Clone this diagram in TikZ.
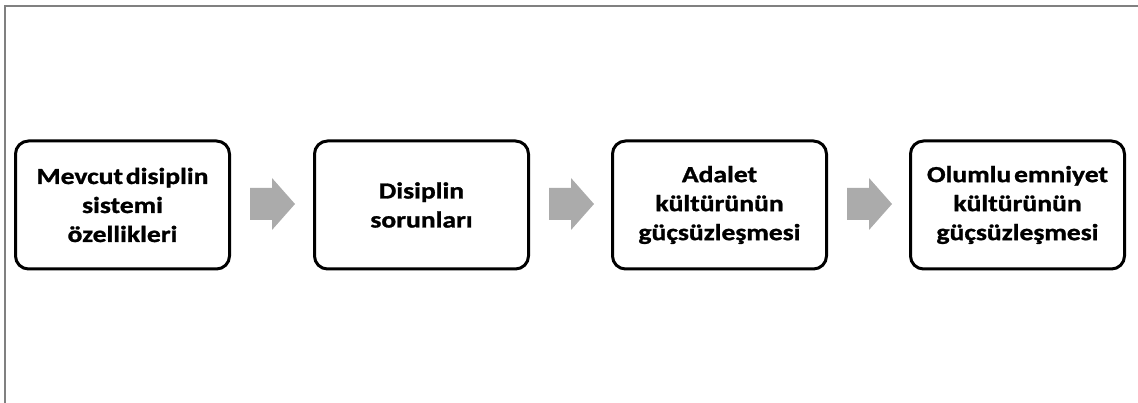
\documentclass[tikz,border=0pt]{standalone}
\usepackage{fontspec}
\setmainfont{Carlito}
\newfontfamily\stepfont{Carlito}[FakeStretch=1.2, FakeBold=1.2, WordSpace=0.45]
\usetikzlibrary{calc}
\begin{document}
\begin{tikzpicture}[x=1pt,y=-1pt,
  stepbox/.style={draw=black, line width=3pt, rounded corners=13pt,
    minimum width=214pt, minimum height=128pt, inner sep=0pt,
    align=center, font=\stepfont\bfseries\fontsize{23}{29}\selectfont},
  blockarrow/.style={fill=black!33, draw=none}]
\useasboundingbox (0,0) rectangle (1138,403);
% partial frame
\draw[line width=2pt, draw=black!50] (5,403) -- (5,6.5) -- (1138,6.5);

\node[stepbox] (b1) at (122.5,205) {Mevcut disiplin\\sistemi\\özellikleri};
\node[stepbox] (b2) at (421.5,205) {Disiplin\\sorunları};
\node[stepbox] (b3) at (719.5,205) {Adalet\\kültürünün\\güçsüzleşmesi};
\node[stepbox] (b4) at (1017.5,205) {Olumlu emniyet\\kültürünün\\güçsüzleşmesi};

% block arrows between the steps
\foreach \a/\b in {b1/b2, b2/b3, b3/b4}{
  \coordinate (s) at ($(\a.east)+(19,-1)$);
  \fill[blockarrow] (s) ++(0,-16) -- ++(22,0) -- ++(0,-10) -- ++(23,26)
     -- ++(-23,26) -- ++(0,-10) -- ++(-22,0) -- cycle;
}
\end{tikzpicture}
\end{document}
